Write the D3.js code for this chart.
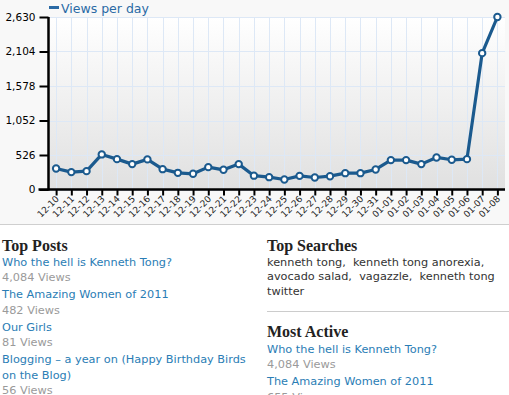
<!DOCTYPE html>
<html>
<head>
<meta charset="utf-8">
<script src="https://cdn.jsdelivr.net/npm/d3@7"></script>
<style>
html,body{margin:0;padding:0;background:#fff;}
svg{display:block;}
</style>
</head>
<body>
<script>
const dates = ["12-10","12-11","12-12","12-13","12-14","12-15","12-16","12-17","12-18","12-19","12-20","12-21","12-22","12-23","12-24","12-25","12-26","12-27","12-28","12-29","12-30","12-31","01-01","01-02","01-03","01-04","01-05","01-06","01-07","01-08"];
const views = [321,265,280,535,463,387,459,310,254,239,341,300,387,211,188,153,208,183,203,249,249,306,448,448,387,489,453,463,2079,2630];
const yTicks = [0,526,1052,1578,2104,2630];
const seriesName = "Views per day";

const topPosts = [
  {title:["Who the hell is Kenneth Tong?"], views:"4,084 Views"},
  {title:["The Amazing Women of 2011"], views:"482 Views"},
  {title:["Our Girls"], views:"81 Views"},
  {title:["Blogging \u2013 a year on (Happy Birthday Birds","on the Blog)"], views:"56 Views"}
];
const topSearches = ["kenneth tong,  kenneth tong anorexia,","avocado salad,  vagazzle,  kenneth tong","twitter"];
const mostActive = [
  {title:["Who the hell is Kenneth Tong?"], views:"4,084 Views"},
  {title:["The Amazing Women of 2011"], views:"655 Views"}
];

const W = 509, H = 395;
const svg = d3.select("body").append("svg").attr("width", W).attr("height", H);

// backgrounds
svg.append("rect").attr("x",0).attr("y",0).attr("width",W).attr("height",224).attr("fill","#f8f8f8");
svg.append("line").attr("x1",0).attr("x2",W).attr("y1",224.5).attr("y2",224.5).attr("stroke","#cfcfcf");

const x0 = 48.5, x1 = 505, yTop = 17, yBot = 189.5;
const x = d3.scalePoint().domain(dates).range([x0, x1]).padding(0.5);
const y = d3.scaleLinear().domain([0, 2630]).range([yBot, yTop]);

const defs = svg.append("defs");
const grad = defs.append("linearGradient").attr("id","bg").attr("x1",0).attr("x2",0).attr("y1",0).attr("y2",1);
grad.append("stop").attr("offset","0%").attr("stop-color","#ffffff");
grad.append("stop").attr("offset","100%").attr("stop-color","#e0e0e0");

svg.append("rect").attr("x",x0).attr("y",yTop).attr("width",x1-x0).attr("height",yBot-yTop).attr("fill","url(#bg)");

// grid
const grid = svg.append("g").attr("stroke","#dde8f6").attr("stroke-width",1);
grid.selectAll("line.v").data(dates).enter().append("line")
  .attr("x1",d=>Math.round(x(d))+0.5).attr("x2",d=>Math.round(x(d))+0.5)
  .attr("y1",yTop).attr("y2",yBot);
grid.selectAll("line.h").data(yTicks).enter().append("line")
  .attr("x1",x0).attr("x2",x1)
  .attr("y1",d=>Math.round(y(d))+0.5).attr("y2",d=>Math.round(y(d))+0.5);

// y axis
const yAxis = d3.axisLeft(y).tickValues(yTicks).tickFormat(d3.format(",")).tickSize(9).tickPadding(4);
const gy = svg.append("g").attr("transform",`translate(${x0},0)`).call(yAxis);
gy.select(".domain").attr("stroke","#000").attr("stroke-width",2.5).attr("d",`M0,${yTop}V${yBot+1}`);
gy.selectAll(".tick line").attr("stroke","#000").attr("stroke-width",2);
gy.selectAll(".tick text").attr("font-family","DejaVu Sans, Verdana, sans-serif").attr("font-size","10.5px").attr("fill","#000");

// x axis
const xAxis = d3.axisBottom(x).tickSize(6).tickSizeOuter(0);
const gx = svg.append("g").attr("transform",`translate(0,${yBot})`).call(xAxis);
gx.select(".domain").attr("stroke","#000").attr("stroke-width",2.5).attr("d",`M${x0-10},0H${x1}`);
gx.selectAll(".tick line").attr("stroke","#000").attr("stroke-width",2);
gx.selectAll(".tick text")
  .attr("font-family","DejaVu Sans, Verdana, sans-serif").attr("font-size","9px").attr("fill","#222")
  .attr("text-anchor","end").attr("dy",null).attr("y",null)
  .attr("transform","translate(3,10) rotate(-45)");

// line
const line = d3.line().x((d,i)=>x(dates[i])).y(d=>y(d));
svg.append("path").datum(views).attr("d",line).attr("fill","none")
  .attr("stroke","#1b5a8e").attr("stroke-width",3.2).attr("stroke-linejoin","round");
svg.selectAll("circle.pt").data(views).enter().append("circle")
  .attr("cx",(d,i)=>x(dates[i])).attr("cy",d=>y(d)).attr("r",3.2)
  .attr("fill","#fff").attr("stroke","#1b5a8e").attr("stroke-width",2);

// legend
svg.append("line").attr("x1",49).attr("x2",59).attr("y1",7.5).attr("y2",7.5).attr("stroke","#2a6aa5").attr("stroke-width",3);
svg.append("text").attr("x",61).attr("y",12.5).attr("font-family","DejaVu Sans, Verdana, sans-serif")
  .attr("font-size","12.5px").attr("fill","#2a6aa5").text(seriesName);

// bottom text
const headFont = "Liberation Serif, Georgia, serif";
const bodyFont = "DejaVu Sans, Verdana, sans-serif";
const bodySize = "11.3px";
function heading(xp, yp, t){
  svg.append("text").attr("x",xp).attr("y",yp).attr("font-family",headFont).attr("font-weight","bold")
    .attr("font-size","16px").attr("fill","#222").text(t);
}
function postList(xp, yStart, list){
  let yy = yStart;
  list.forEach(p=>{
    p.title.forEach((t,j)=>{
      svg.append("text").attr("x",xp).attr("y",yy).attr("font-family",bodyFont).attr("font-size",bodySize)
        .attr("fill","#2a7db5").text(t);
      yy += 15.5;
    });
    svg.append("text").attr("x",xp).attr("y",yy).attr("font-family",bodyFont).attr("font-size",bodySize)
      .attr("fill","#9a9a9a").text(p.views);
    yy += 17;
  });
}
heading(2, 250.5, "Top Posts");
postList(2, 265.7, topPosts);

heading(267, 250.5, "Top Searches");
topSearches.forEach((t,i)=>{
  svg.append("text").attr("x",267).attr("y",265.7+i*14.7).attr("font-family",bodyFont).attr("font-size",bodySize)
    .attr("fill","#333").attr("xml:space","preserve").style("white-space","pre").text(t);
});
svg.append("line").attr("x1",267).attr("x2",W).attr("y1",311.5).attr("y2",311.5).attr("stroke","#cccccc");
heading(267, 337.3, "Most Active");
postList(267, 352.7, mostActive);
</script>
</body>
</html>
